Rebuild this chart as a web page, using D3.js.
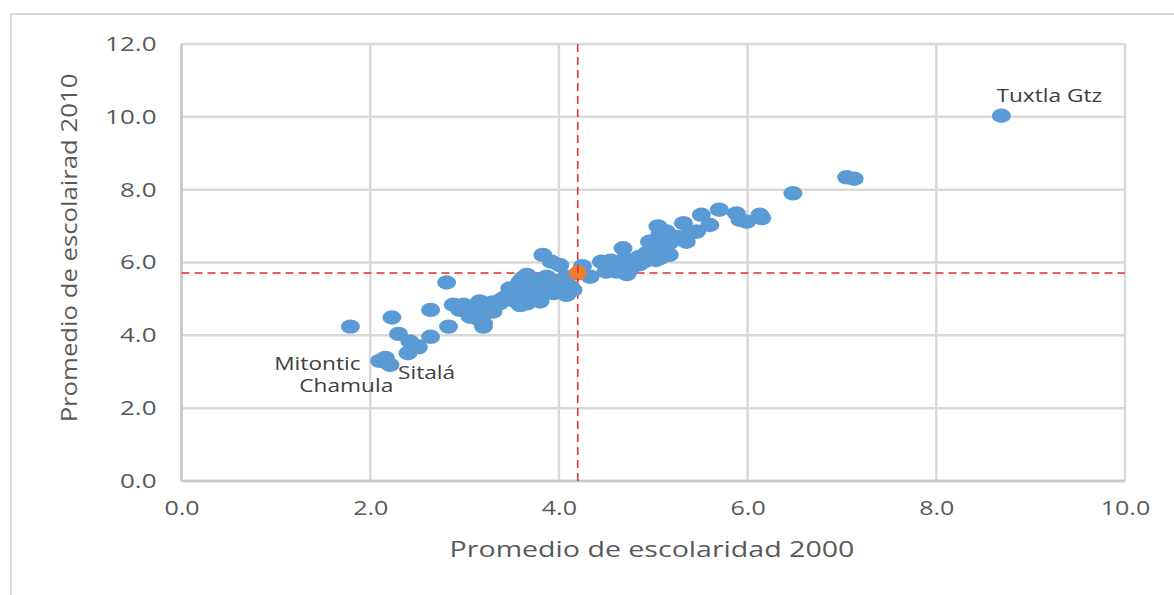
<!DOCTYPE html>
<html>
<head>
<meta charset="utf-8">
<script src="https://cdn.jsdelivr.net/npm/d3@7"></script>
<style>
  html, body { margin: 0; padding: 0; background: #fff; }
  svg { display: block; }
  text { font-family: "Open Sans", "Noto Sans", sans-serif; }
</style>
</head>
<body>
<svg id="chart" width="1174" height="595"></svg>
<script>
// ---- data ----
const esc2000 = [1.79,2.23,2.30,2.10,2.16,2.21,2.42,2.51,2.40,2.64,2.64,2.81,2.83,2.88,2.99,3.06,3.16,3.20,3.20,3.13,
  3.02,3.06,3.20,3.30,3.37,3.16,3.23,3.44,3.48,3.51,3.59,3.59,3.66,3.66,3.69,3.76,3.80,3.80,3.83,3.83,
  3.87,3.92,3.94,4.01,4.01,4.08,4.08,4.12,3.59,3.55,3.70,3.62,4.05,4.15,4.33,4.25,4.45,4.50,4.57,4.61,
  4.68,4.72,4.75,4.80,4.85,4.90,4.93,4.93,4.96,4.98,5.03,5.05,5.07,5.07,5.14,5.14,5.17,5.17,5.00,4.70,
  4.55,5.32,5.35,5.39,5.46,5.51,5.60,5.70,5.88,5.92,5.99,6.13,6.15,6.48,7.05,7.13,8.69,5.25,5.10,4.85,
  3.30,3.40,3.95,2.50,2.95];
const esc2010 = [4.24,4.49,4.04,3.30,3.38,3.19,3.83,3.67,3.51,4.70,3.96,5.45,4.24,4.84,4.84,4.65,4.70,4.88,4.24,4.47,
  4.79,4.51,4.33,4.65,4.88,4.93,4.79,5.06,5.29,4.97,5.48,5.16,5.66,4.88,5.11,5.52,4.93,5.16,5.34,6.21,
  5.61,6.02,5.16,5.93,5.43,5.61,5.11,5.34,4.83,5.30,5.40,5.58,5.20,5.25,5.61,5.90,6.02,5.75,5.93,5.75,
  6.39,5.68,5.80,6.07,5.95,6.02,6.26,6.21,6.57,6.53,6.07,6.99,6.76,6.12,6.21,6.85,6.53,6.21,6.35,6.10,
  6.05,7.08,6.57,6.80,6.85,7.31,7.03,7.45,7.35,7.17,7.12,7.31,7.22,7.90,8.34,8.30,10.03,6.70,6.40,6.15,
  4.90,5.00,5.50,3.70,4.70];
const meanX = [4.2];
const meanY = [5.71];
const xTicks = [0, 2, 4, 6, 8, 10];
const yTicks = [0, 2, 4, 6, 8, 10, 12];
const labelNames = ["Tuxtla Gtz", "Mitontic", "Chamula", "Sitalá"];
const labelX = [8.69, 2.10, 2.16, 2.21];
const labelY = [10.03, 3.30, 3.38, 3.19];
const xTitle = "Promedio de escolaridad 2000";
const yTitle = "Promedio de escolairad 2010";

// ---- drawing ----
const svg = d3.select("#chart");
const x = d3.scaleLinear().domain([0, 10]).range([181.5, 1125]);
const y = d3.scaleLinear().domain([0, 12]).range([481, 44]);
const grid = "#d9d9d9";
const textCol = "#595959";

function stretchText(sel, sx) {
  sel.each(function () {
    const t = d3.select(this);
    const tx = +t.attr("x") || 0, ty = +t.attr("y") || 0;
    t.attr("transform", `translate(${tx},${ty}) scale(${sx},1) translate(${-tx},${-ty})`);
  });
}

// outer frame
svg.append("rect").attr("x", 11).attr("y", 14).attr("width", 1180).attr("height", 600)
  .attr("fill", "none").attr("stroke", grid).attr("stroke-width", 2);

// gridlines
svg.append("g").selectAll("line.h").data(yTicks).join("line")
  .attr("x1", x(0)).attr("x2", x(10)).attr("y1", d => y(d)).attr("y2", d => y(d))
  .attr("stroke", grid).attr("stroke-width", 2.5);
svg.append("g").selectAll("line.v").data(xTicks).join("line")
  .attr("y1", y(0)).attr("y2", y(12)).attr("x1", d => x(d)).attr("x2", d => x(d))
  .attr("stroke", grid).attr("stroke-width", 2.5);
// axis lines
svg.append("line").attr("x1", x(0)).attr("x2", x(10)).attr("y1", y(0)).attr("y2", y(0))
  .attr("stroke", "#c8c8c8").attr("stroke-width", 2.5);
svg.append("line").attr("x1", x(0)).attr("x2", x(0)).attr("y1", y(0)).attr("y2", y(12))
  .attr("stroke", "#c8c8c8").attr("stroke-width", 2.5);

// axes (labels only)
const yAxis = svg.append("g").attr("transform", `translate(${x(0) - 25},0)`)
  .call(d3.axisLeft(y).tickValues(yTicks).tickFormat(d3.format(".1f")).tickSize(0).tickPadding(0));
const xAxis = svg.append("g").attr("transform", `translate(0,${y(0) + 20})`)
  .call(d3.axisBottom(x).tickValues(xTicks).tickFormat(d3.format(".1f")).tickSize(0).tickPadding(0));
[yAxis, xAxis].forEach(a => {
  a.select(".domain").remove();
  a.selectAll("text").attr("fill", textCol).style("font-size", "20px")
    .style("font-family", "\"Open Sans\", sans-serif");
});
stretchText(yAxis.selectAll("text"), 1.3);
stretchText(xAxis.selectAll("text"), 1.25);

// mean lines
svg.append("line").attr("x1", x(meanX[0])).attr("x2", x(meanX[0])).attr("y1", y(12)).attr("y2", y(0) + 3)
  .attr("stroke", "#ee2a2a").attr("stroke-width", 1.5).attr("stroke-dasharray", "8,5");
svg.append("line").attr("x1", x(0)).attr("x2", x(10)).attr("y1", y(meanY[0])).attr("y2", y(meanY[0]))
  .attr("stroke", "#ee2a2a").attr("stroke-width", 1.5).attr("stroke-dasharray", "8,5");

// points
svg.append("g").selectAll("ellipse").data(esc2000.map((d, i) => [d, esc2010[i]])).join("ellipse")
  .attr("cx", d => x(d[0])).attr("cy", d => y(d[1])).attr("rx", 9.5).attr("ry", 7.2)
  .attr("fill", "#5b9bd5");
// mean point
svg.append("ellipse").attr("cx", x(meanX[0])).attr("cy", y(meanY[0])).attr("rx", 9).attr("ry", 7.5)
  .attr("fill", "#ed7d31");
// redraw mean lines over the orange dot
svg.append("line").attr("x1", x(meanX[0])).attr("x2", x(meanX[0])).attr("y1", y(meanY[0]) - 8).attr("y2", y(meanY[0]) + 8)
  .attr("stroke", "#ee2a2a").attr("stroke-width", 1.5).attr("stroke-dasharray", "8,5");

// data labels
const offs = [[-5, -14, "start"], [-19, 9, "end"], [8, 34, "end"], [8, 14, "start"]];
const lab = svg.append("g").selectAll("text").data(labelNames).join("text")
  .attr("x", (d, i) => x(labelX[i]) + offs[i][0])
  .attr("y", (d, i) => y(labelY[i]) + offs[i][1])
  .attr("text-anchor", (d, i) => offs[i][2])
  .attr("fill", "#404040").style("font-size", "18px").text(d => d);
stretchText(lab, 1.26);

// axis titles
const xt = svg.append("text").attr("x", 652).attr("y", 557).attr("text-anchor", "middle")
  .attr("fill", textCol).style("font-size", "21px").text(xTitle);
const xl = xt.node().getComputedTextLength();
stretchText(xt, 405 / xl);

const yt = svg.append("text").attr("text-anchor", "middle")
  .attr("fill", textCol).style("font-size", "21px").text(yTitle);
const yl = yt.node().getComputedTextLength();
yt.attr("transform", `translate(77,248) rotate(-90) scale(${349 / yl},1)`);
</script>
</body>
</html>
